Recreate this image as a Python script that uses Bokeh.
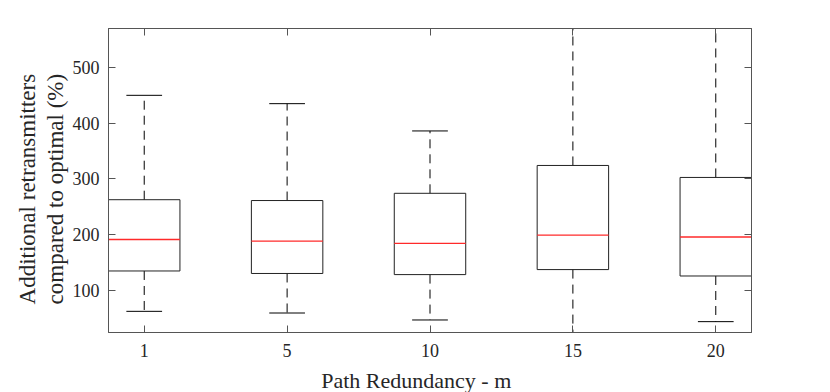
from bokeh.plotting import figure
from bokeh.models import ColumnDataSource, Range1d, FixedTicker, LinearAxis
from bokeh.embed import file_html
from bokeh.resources import INLINE

# ---- data ----
categories = ["1", "5", "10", "15", "20"]
q1 = [134.5, 130.0, 128.0, 137.0, 125.5]
median = [191.0, 188.0, 184.0, 199.0, 195.5]
q3 = [262.5, 261.0, 274.0, 324.0, 302.5]
whisker_lo = [62.0, 59.0, 46.5, 24.0, 43.5]
whisker_hi = [450.0, 435.0, 386.0, 570.0, 570.0]
y_ticks = [100, 200, 300, 400, 500]
x_title = "Path Redundancy - m"
y_title_lines = ["Additional retransmitters", "compared to optimal (%)"]

pos = list(range(1, len(categories) + 1))
BOX_HALF = 0.25
CAP_HALF = 0.125
NBSP = "\u00a0"

src = ColumnDataSource(dict(
    x=pos,
    left=[p - BOX_HALF for p in pos],
    right=[p + BOX_HALF for p in pos],
    cap_l=[p - CAP_HALF for p in pos],
    cap_r=[p + CAP_HALF for p in pos],
    q1=q1, med=median, q3=q3, lo=whisker_lo, hi=whisker_hi,
))

FONT = "Liberation Serif"
AXIS_COL = "#555555"
TEXT_COL = "#262626"

p = figure(frame_width=643, frame_height=304,
           x_range=Range1d(0.75, 5.25), y_range=Range1d(24, 570),
           output_backend="svg", toolbar_location=None,
           min_border_left=108, min_border_right=63,
           min_border_top=28, min_border_bottom=60)
p.background_fill_color = "white"
p.border_fill_color = "white"
p.outline_line_color = AXIS_COL
p.xgrid.visible = False
p.ygrid.visible = False

# whiskers
p.segment(x0="x", y0="q3", x1="x", y1="hi", source=src, line_color="black",
          line_width=1, line_dash="9 6")
p.segment(x0="x", y0="q1", x1="x", y1="lo", source=src, line_color="black",
          line_width=1, line_dash="9 6")
# caps
p.segment(x0="cap_l", y0="hi", x1="cap_r", y1="hi", source=src, line_color="black", line_width=1)
p.segment(x0="cap_l", y0="lo", x1="cap_r", y1="lo", source=src, line_color="black", line_width=1)
# boxes
p.quad(left="left", right="right", bottom="q1", top="q3", source=src,
       fill_color=None, line_color="#222222", line_width=1)
# medians as thin filled red bars
p.rect(x="x", y="med", width=2 * BOX_HALF, height=1.3, height_units="screen",
       source=src, fill_color="#ff2a2a", line_color=None)

# axes styling
def style_axis(ax, ticks, labels=True):
    ax.ticker = FixedTicker(ticks=ticks)
    ax.axis_line_color = AXIS_COL
    ax.major_tick_line_color = AXIS_COL
    ax.major_tick_in = 7
    ax.major_tick_out = 0
    ax.minor_tick_line_color = None
    ax.major_label_text_font = FONT
    ax.major_label_text_font_size = "18px"
    ax.major_label_text_color = TEXT_COL
    ax.axis_label_text_font = FONT
    ax.axis_label_text_font_style = "normal"
    ax.axis_label_text_color = TEXT_COL
    if not labels:
        ax.major_label_overrides = {t: "" for t in ticks}
        ax.major_label_standoff = 0

xax = p.xaxis[0]
style_axis(xax, pos)
xax.major_label_overrides = {pp: c for pp, c in zip(pos, categories)}
xax.major_label_standoff = 11
# trailing no-break spaces shift the visible title left, as in the reference
xax.axis_label = x_title + NBSP * 5
xax.axis_label_text_font_size = "22px"
xax.axis_label_standoff = 8

yax = p.yaxis[0]
style_axis(yax, y_ticks)
yax.major_label_standoff = 9
yax.axis_label = "\n".join(t + NBSP * 3 for t in y_title_lines)
yax.axis_label_text_font_size = "23px"
yax.axis_label_standoff = 2
yax.axis_label_text_line_height = 1.11

top_ax = LinearAxis()
style_axis(top_ax, pos, labels=False)
p.add_layout(top_ax, "above")
right_ax = LinearAxis()
style_axis(right_ax, y_ticks, labels=False)
p.add_layout(right_ax, "right")

open("out.html", "w").write(file_html(p, INLINE))
